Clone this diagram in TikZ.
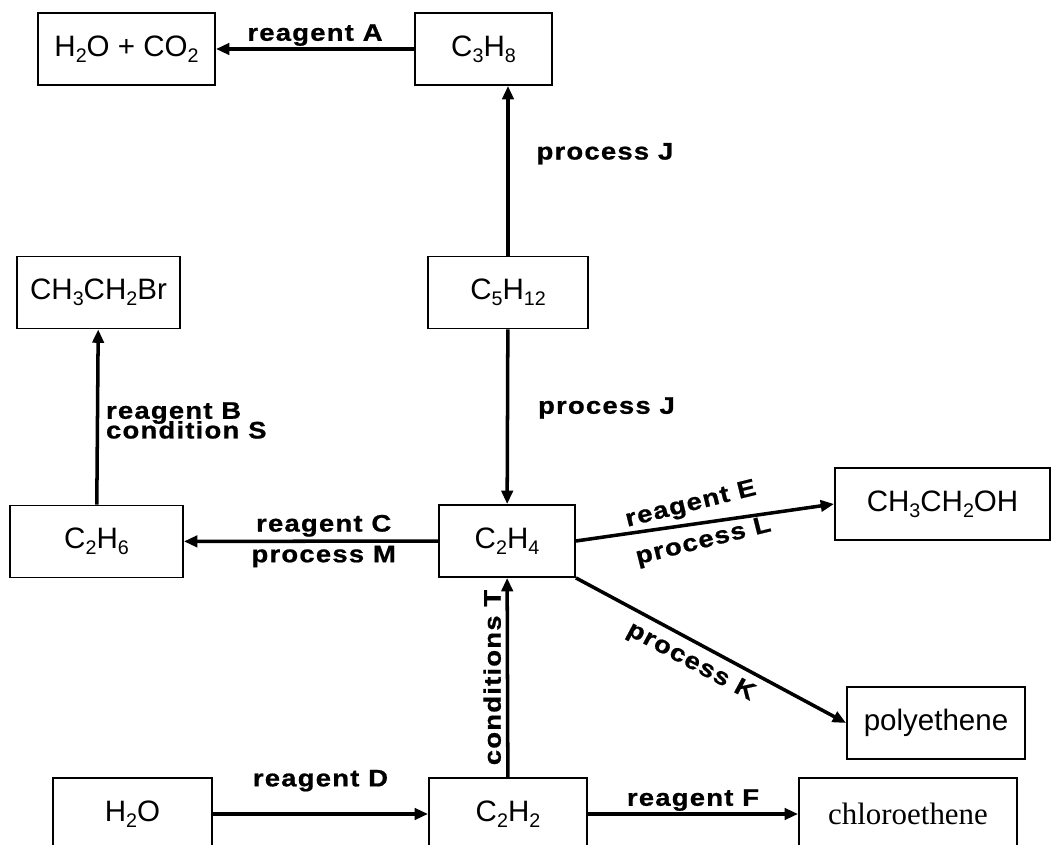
\documentclass[tikz,border=0pt]{standalone}
\usepackage{fontspec}
\setmainfont{Liberation Sans}
\newfontfamily\lblfam{Liberation Sans Bold}[FakeStretch=1.15, LetterSpace=5, FakeBold=0.8]
\newfontfamily\serfam{Liberation Serif}
\usepackage{tikz}
\usetikzlibrary{arrows.meta, positioning}
\newcommand{\boxfont}{\fontsize{21}{24}\selectfont}
\newcommand{\lblfont}{\lblfam\fontsize{17}{18}\selectfont}
\newcommand{\chs}[1]{\raisebox{-0.2em}{\fontsize{14}{14}\selectfont #1}}

\begin{document}
\begin{tikzpicture}[x=0.025cm, y=-0.025cm,
    chembox/.style={draw, line width=1.3pt, minimum height=1.8cm, inner sep=0pt, font=\boxfont},
    arr/.style={-{Triangle[length=9.5pt, width=8pt]}, line width=2.5pt},
    lbl/.style={font=\lblfont, inner sep=2pt}]
    \useasboundingbox (0,0) rectangle (1055,845);

    \node[chembox, minimum width=4.425cm] (wc) at (126.5,49) {H\chs{2}O + CO\chs{2}};
    \node[chembox, minimum width=3.425cm] (propane) at (483.5,49) {C\chs{3}H\chs{8}};
    \node[chembox, minimum width=4cm] (pentane) at (508,292.5) {C\chs{5}H\chs{12}};
    \node[chembox, minimum width=4.075cm] (bromo) at (98.5,292.5) {CH\chs{3}CH\chs{2}Br};
    \node[chembox, minimum width=4.325cm] (ethane) at (96.5,541.5) {C\chs{2}H\chs{6}};
    \node[chembox, minimum width=3.4cm] (ethene) at (507,541) {C\chs{2}H\chs{4}};
    \node[chembox, minimum width=5.375cm] (ethanol) at (942.5,504) {CH\chs{3}CH\chs{2}OH};
    \node[chembox, minimum width=4.45cm] (poly) at (936,723) {polyethene};
    \node[chembox, minimum width=3.975cm] (water) at (132.5,814) {H\chs{2}O};
    \node[chembox, minimum width=3.95cm] (ethyne) at (508,814) {C\chs{2}H\chs{2}};
    \node[chembox, minimum width=5.45cm, font=\serfam\fontsize{22}{26}\selectfont] (chloro) at (908,814) {chloroethene};

    \draw[arr] (propane) -- (wc) node[lbl, midway, above, inner sep=1pt] {reagent A};
    \draw[arr] (pentane.north) -- (pentane.north |- propane.south)
        node[lbl, pos=0.6, anchor=west, xshift=0.6cm] {process J};
    \draw[arr] (pentane) -- (ethene)
        node[lbl, pos=0.45, anchor=west, xshift=0.65cm] {process J};
    \draw[arr] (ethane) -- (bromo)
        node[lbl, pos=0.48, anchor=west, align=left, xshift=0.1cm] {reagent B\\[-4pt]condition S};
    \draw[arr] (ethene) -- (ethane)
        node[lbl, pos=0.45, above] {reagent C}
        node[lbl, pos=0.45, below] {process M};
    \draw[arr] (ethene.east) -- (ethanol.west)
        node[lbl, pos=0.46, above=0.1cm, rotate=14] {reagent E}
        node[lbl, pos=0.48, below=0.1cm, rotate=14] {process L};
    \draw[arr] (ethene.south east) -- (poly.west)
        node[lbl, pos=0.46, below=0.12cm, sloped] {process K};
    \draw[arr] (ethyne) -- (ethene)
        node[lbl, midway, above, rotate=90, yshift=0.05cm] {conditions T};
    \draw[arr] (water) -- (ethyne) node[lbl, midway, above=0.45cm] {reagent D};
    \draw[arr] (ethyne) -- (chloro) node[lbl, midway, above, inner sep=1pt] {reagent F};
\end{tikzpicture}
\end{document}
